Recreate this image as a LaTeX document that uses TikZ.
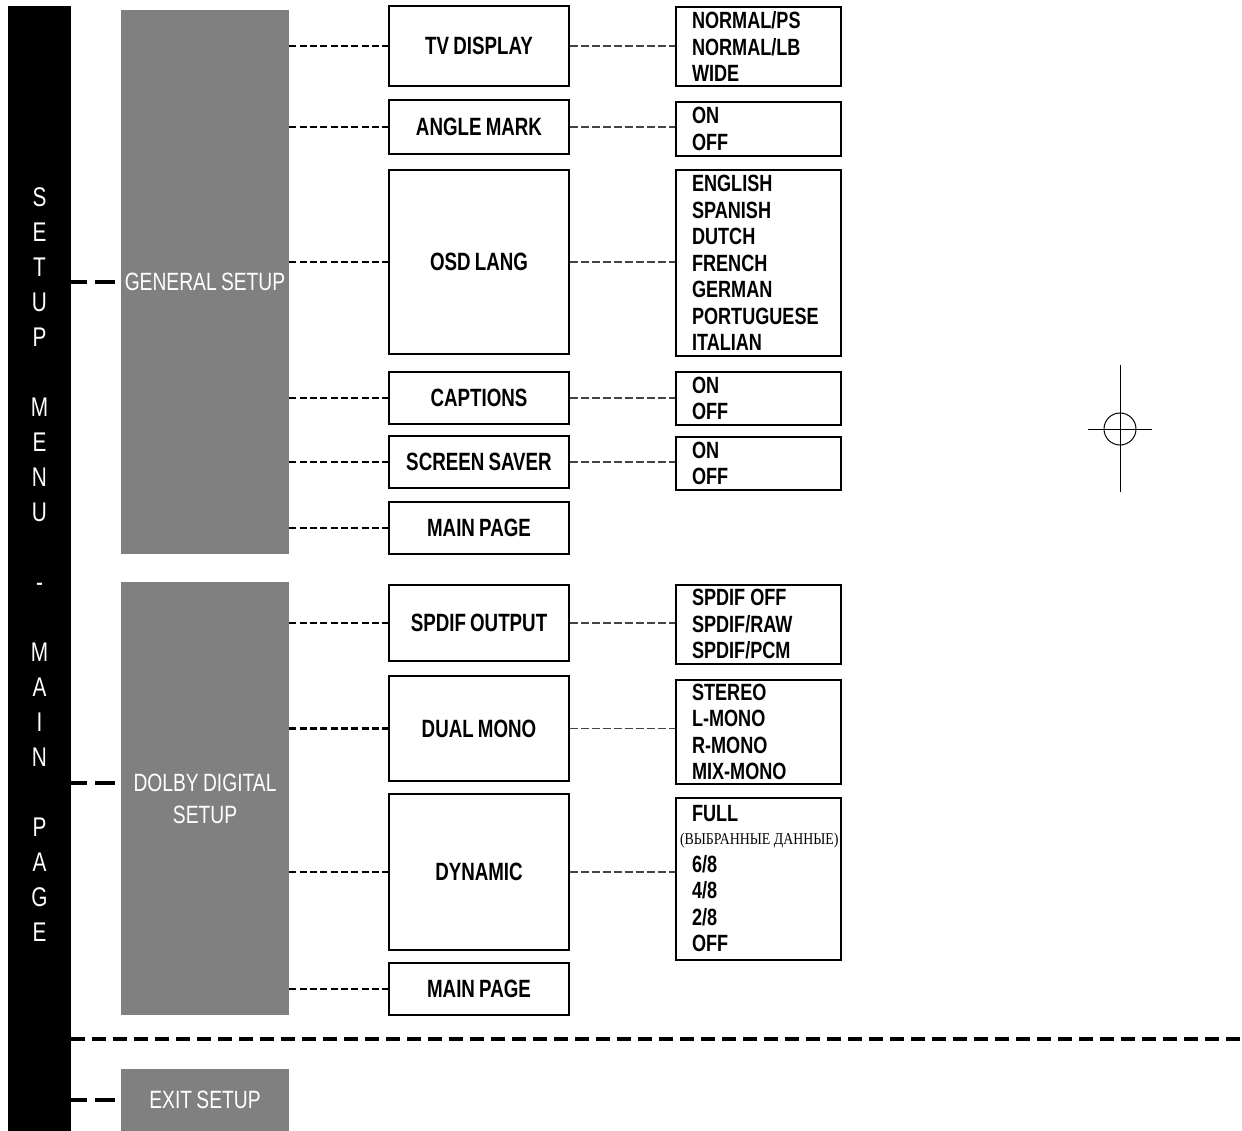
\documentclass[tikz,border=0pt]{standalone}
\usepackage{fontspec}
\setmainfont{Liberation Sans}[FakeStretch=0.77, WordSpace=0.8]
\newfontfamily\midfont{Liberation Sans}[FakeStretch=0.75, WordSpace=0.8]
\newfontfamily\optfont{Liberation Sans}[FakeStretch=0.77, WordSpace=0.8]
\newfontfamily\rufont{Liberation Serif}[FakeStretch=0.84, WordSpace=0.7]
\usetikzlibrary{calc}
\definecolor{boxgray}{HTML}{808080}
\definecolor{thindash}{HTML}{444444}
\tikzset{
  barbox/.style={fill=black, draw=none, minimum width=63pt, minimum height=1125pt, inner sep=0pt},
  bartxt/.style={text=white, font=\fontsize{27}{35}\selectfont, align=center, inner sep=0pt},
  graybox/.style={fill=boxgray, draw=none, text=white, minimum width=168pt, inner sep=0pt,
    align=center, font=\fontsize{25}{32}\selectfont},
  midbox/.style={draw=black, line width=1.4pt, minimum width=180pt, inner sep=0pt,
    font=\midfont\bfseries\fontsize{25}{30}\selectfont},
  optbox/.style={draw=black, line width=1.4pt, minimum width=165pt, inner xsep=16pt, inner ysep=0pt,
    text width=133pt, align=left, font=\optfont\bfseries\fontsize{23.5}{26.5}\selectfont},
  bigdash/.style={line width=4pt, dash pattern=on 14pt off 7pt},
  bardash/.style={line width=4pt, dash pattern=on 16pt off 8pt on 20pt off 20pt},
  middash/.style={line width=2.3pt, dash pattern=on 7pt off 3.33pt},
  optdash/.style={line width=1.2pt, draw=thindash, dash pattern=on 8pt off 3pt},
  cropline/.style={line width=1pt}
}
\begin{document}
\begin{tikzpicture}[x=1pt,y=-1pt]
\useasboundingbox (0,0) rectangle (1242,1131);
% left bar
\node[barbox] (bar) at (39.5,568.5) {};
\node[bartxt] (bartext) at (39.5,564.5) {S\\E\\T\\U\\P\\[35pt]M\\E\\N\\U\\[35pt]-\\[35pt]M\\A\\I\\N\\[35pt]P\\A\\G\\E};
% gray boxes
\node[graybox, minimum height=544pt] (gen) at (205,282) {GENERAL SETUP};
\node[graybox, minimum height=433pt] (dolby) at (205,798.5) {DOLBY DIGITAL\\SETUP};
\node[graybox, minimum height=62pt] (exit) at (205,1100) {EXIT SETUP};
% middle boxes
\node[midbox, minimum height=80pt] (tv) at (479,46) {TV DISPLAY};
\node[midbox, minimum height=54pt] (angle) at (479,127) {ANGLE MARK};
\node[midbox, minimum height=184pt] (osd) at (479,262) {OSD LANG};
\node[midbox, minimum height=52pt] (cap) at (479,398) {CAPTIONS};
\node[midbox, minimum height=52pt] (scr) at (479,462) {SCREEN SAVER};
\node[midbox, minimum height=52pt] (mainA) at (479,528) {MAIN PAGE};
\node[midbox, minimum height=76pt] (spdif) at (479,623) {SPDIF OUTPUT};
\node[midbox, minimum height=105pt] (dual) at (479,728.5) {DUAL MONO};
\node[midbox, minimum height=156pt] (dyn) at (479,872) {DYNAMIC};
\node[midbox, minimum height=52pt] (mainB) at (479,989) {MAIN PAGE};
% option boxes
\node[optbox, minimum height=79pt] (otv) at (758.5,46.5) {NORMAL/PS\\NORMAL/LB\\WIDE};
\node[optbox, minimum height=54pt] (oang) at (758.5,129) {ON\\OFF};
\node[optbox, minimum height=186pt] (oosd) at (758.5,263) {ENGLISH\\SPANISH\\DUTCH\\FRENCH\\GERMAN\\PORTUGUESE\\ITALIAN};
\node[optbox, minimum height=53pt] (ocap) at (758.5,398.5) {ON\\OFF};
\node[optbox, minimum height=53pt] (oscr) at (758.5,463.5) {ON\\OFF};
\node[optbox, minimum height=79pt] (ospd) at (758.5,624.5) {SPDIF\hspace{5pt}OFF\\SPDIF/RAW\\SPDIF/PCM};
\node[optbox, minimum height=104pt] (odual) at (758.5,732) {STEREO\\L-MONO\\R-MONO\\MIX-MONO};
\node[optbox, minimum height=162pt] (odyn) at (758.5,879) {FULL\\[-4pt]\mbox{\hspace*{-12pt}\rufont\mdseries\fontsize{16.5}{26.5}\selectfont (ВЫБРАННЫЕ\hspace{3.5pt}ДАННЫЕ)}\\[1.5pt]6/8\\4/8\\2/8\\OFF};
% bar to gray connectors
\draw[bardash] (bar.east |- gen.west) -- (gen.west);
\draw[bardash] ([yshift=16pt]bar.east |- dolby.west) -- ([yshift=16pt]dolby.west);
\draw[bardash] (bar.east |- exit.west) -- (exit.west);
\coordinate (dashend) at (1242,1039);
\draw[bigdash] (bar.east |- dashend) -- (dashend);
% gray to middle
\foreach \m in {tv,angle,osd,cap,scr,mainA}{
  \draw[middash] (gen.east |- \m.west) -- (\m.west);
}
\foreach \m in {spdif,dual,dyn,mainB}{
  \draw[middash] (dolby.east |- \m.west) -- (\m.west);
}
% middle to options
\foreach \m/\o in {tv/otv,angle/oang,osd/oosd,cap/ocap,scr/oscr,spdif/ospd,dual/odual,dyn/odyn}{
  \draw[optdash] (\m.east) -- (\m.east -| \o.west);
}
% crop mark
\draw[cropline] (1120,365) -- (1120,492);
\draw[cropline] (1088,429) -- (1152,429);
\draw[cropline] (1120,429) circle (16pt);
\end{tikzpicture}
\end{document}
